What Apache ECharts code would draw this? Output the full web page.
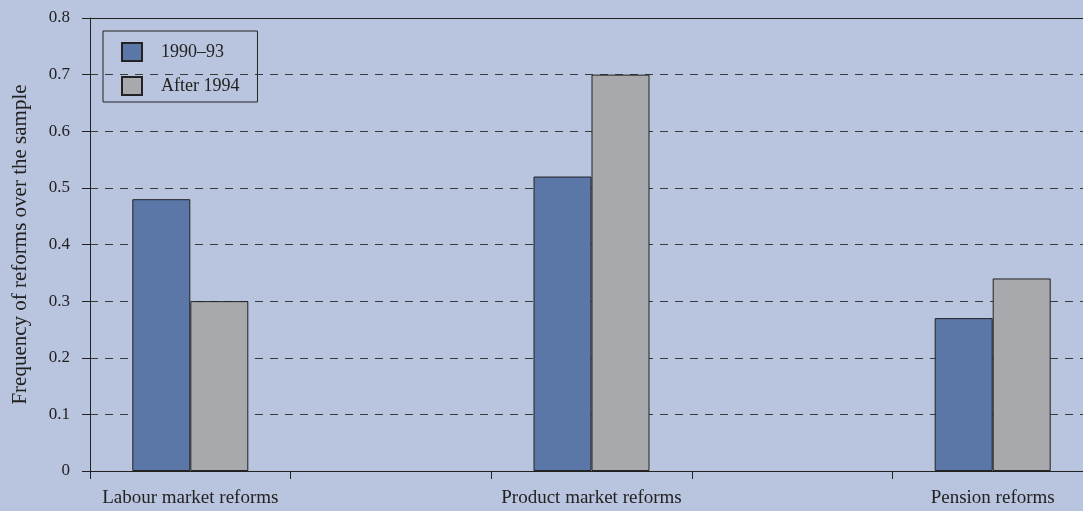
<!DOCTYPE html>
<html>
<head>
<meta charset="utf-8">
<script src="https://cdn.jsdelivr.net/npm/echarts@6/dist/echarts.min.js"></script>
<style>
  html, body { margin: 0; padding: 0; background: #B9C4DE; }
  #chart { width: 1083px; height: 511px; }
</style>
</head>
<body>
<div id="chart"></div>
<script>
// Reform categories (blank slots keep the spacing between groups)
const categories = ['Labour market reforms', '', 'Product market reforms', '', 'Pension reforms'];
const seriesNames = ['1990–93', 'After 1994'];
const early = [0.48, null, 0.52, null, 0.27];
const late = [0.30, null, 0.70, null, 0.34];
const yTicks = [0, 0.1, 0.2, 0.3, 0.4, 0.5, 0.6, 0.7, 0.8];

const font = 'Liberation Serif';
const ink = '#222';

const chart = echarts.init(document.getElementById('chart'), null, { renderer: 'canvas' });
chart.setOption({
  backgroundColor: '#B9C4DE',
  animation: false,
  textStyle: { fontFamily: font, color: ink },
  grid: { left: 90, top: 18, bottom: 40, width: 1003, outerBoundsMode: 'none', containLabel: false },
  legend: {
    orient: 'vertical',
    left: 103,
    top: 31,
    padding: [11, 18, 6, 18],
    borderColor: '#222',
    borderWidth: 1,
    icon: 'rect',
    itemWidth: 20,
    itemHeight: 18,
    itemGap: 14,
    data: seriesNames,
    textStyle: { fontFamily: font, fontSize: 18, color: ink, padding: [0, 0, 0, 14] }
  },
  xAxis: [{
    type: 'category',
    data: categories,
    boundaryGap: true,
    axisLine: { lineStyle: { color: '#222', width: 1 } },
    axisTick: { show: true, length: 8, interval: 0, lineStyle: { color: '#222' } },
    axisLabel: { interval: 0, margin: 18, fontFamily: font, fontSize: 19, color: ink },
    splitLine: { show: false }
  }, {
    type: 'category',
    position: 'top',
    data: categories,
    axisLine: { show: true, lineStyle: { color: '#222', width: 1 } },
    axisTick: { show: false },
    axisLabel: { show: false }
  }],
  yAxis: {
    type: 'value',
    min: yTicks[0],
    max: yTicks[yTicks.length - 1],
    interval: 0.1,
    name: 'Frequency of reforms over the sample',
    nameLocation: 'middle',
    nameGap: 59,
    nameTextStyle: { fontFamily: font, fontSize: 21, color: ink },
    axisLine: { show: true, lineStyle: { color: '#222', width: 1 } },
    axisTick: { show: true, length: 8, lineStyle: { color: '#222' } },
    axisLabel: {
      margin: 20, fontFamily: font, fontSize: 17, color: ink,
      formatter: v => (v === 0 ? '0' : v.toFixed(1))
    },
    splitLine: { show: true, lineStyle: { color: '#3a3a3a', width: 1, type: [8, 7] } }
  },
  series: [{
    name: seriesNames[0],
    type: 'bar',
    data: early,
    barWidth: 58,
    barGap: '0%',
    itemStyle: { color: '#5A77A8', borderColor: '#222', borderWidth: 1 }
  }, {
    name: seriesNames[1],
    type: 'bar',
    data: late,
    barWidth: 58,
    barGap: '0%',
    itemStyle: { color: '#A8A9AC', borderColor: '#222', borderWidth: 1 }
  }]
});
</script>
</body>
</html>
